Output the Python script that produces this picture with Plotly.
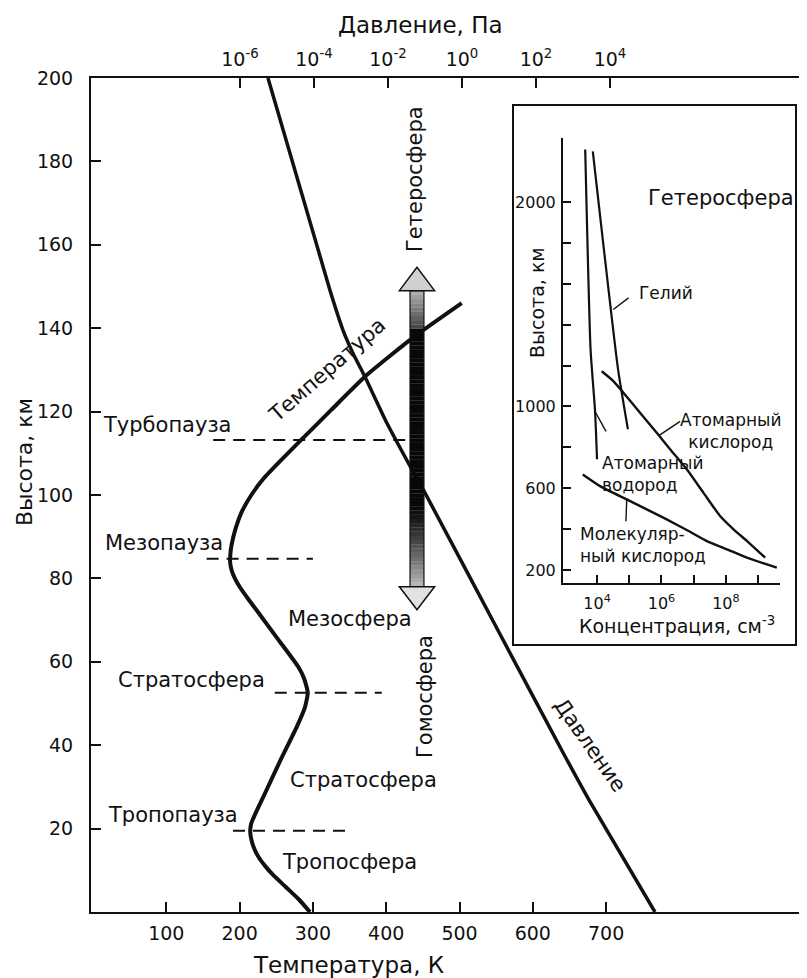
import plotly.graph_objects as go

# ---------------- data ----------------
# Temperature profile (altitude km, temperature K)
temp_alt = [0, 3, 6, 9, 11, 13, 15, 17, 19.2, 21, 23, 28.6, 36.5, 44.4, 49, 52.6, 56, 58.8, 65.5,
            71.7, 75, 78, 80, 82, 84, 86, 88, 92, 96, 100, 104, 108, 113.2, 120.4, 128.7, 137.8, 146]
temp_K = [296, 281, 263, 245, 235, 226.5, 220.5, 216.5, 214.5, 215.5, 220, 235, 256, 278, 289, 293, 288,
          280, 252, 226, 212, 200, 193.5, 189, 187, 187.5, 189, 194.6, 203, 216, 233, 254.6, 284, 325,
          373, 437, 503]

# Pressure profile (altitude km, pressure Pa)
pres_alt = [200, 149.1, 139.5, 134.0, 128.3, 117.2, 106.0, 100.5, 65.3, 38.2, 26.9, 0]
pres_Pa = [5.7e-6, 2.7e-4, 6.1e-4, 1.13e-3, 2.4e-3, 9.4e-3, 4.5e-2, 1.0e-1, 1.28e1, 5.4e2, 2.7e3, 1.64e5]

# Boundary (dashed) lines: altitude, temperature start, temperature end
bound_names = ["Турбопауза", "Мезопауза", "Стратосфера", "Тропопауза"]
bound_alt = [113.2, 84.7, 52.6, 19.5]
bound_T0 = [164, 155, 248, 191]
bound_T1 = [435, 300, 394, 351]

# Homosphere / heterosphere arrow (temperature position, altitudes)
arrow_T = 442
arrow_top_tip, arrow_top_base = 154.6, 149.0
arrow_bot_base, arrow_bot_tip = 78.0, 72.5
arrow_black_top, arrow_black_bot = 139.5, 97.0

# Inset: concentration (cm^-3) vs altitude (km)
h_alt = [2257, 1280, 975, 741]
h_n = [4.3e3, 6.3e3, 8.7e3, 1.0e4]
he_alt = [2248, 1181, 888]
he_n = [7.4e3, 4.5e4, 9.1e4]
o_alt = [1172, 1124, 1067, 969, 871, 781, 692, 578, 464, 400, 342, 260]
o_n = [1.40e4, 3.21e4, 6.58e4, 2.16e5, 7.13e5, 2.08e6, 6.10e6, 2.0e7, 6.6e7, 1.70e8, 4.47e8, 1.66e9]
o2_alt = [667, 610, 545, 496, 447, 395, 341, 301, 260, 211]
o2_n = [3.6e3, 1.24e4, 8.36e4, 3.49e5, 1.46e6, 6.1e6, 2.55e7, 1.07e8, 4.46e8, 3.81e9]
# label leader lines (n, alt)
lead_h = ([8.7e3, 1.9e4], [975, 878])
lead_he = ([3.2e4, 9.5e4], [1474, 1531])
lead_o = ([8.5e5, 3.8e6], [858, 927])
lead_o2 = ([8.36e4, 7.9e4], [545, 438])

T_ticks = [100, 200, 300, 400, 500, 600, 700]
alt_ticks = [20, 40, 60, 80, 100, 120, 140, 160, 180, 200]
P_ticks = [1e-6, 1e-4, 1e-2, 1e0, 1e2, 1e4]
P_tick_text = ["10<sup>-6</sup>", "10<sup>-4</sup>", "10<sup>-2</sup>", "10<sup>0</sup>",
               "10<sup>2</sup>", "10<sup>4</sup>"]
n_ticks = [1e4, 1e5, 1e6, 1e7, 1e8, 1e9]
n_tick_text = ["10<sup>4</sup>", "", "10<sup>6</sup>", "", "10<sup>8</sup>", ""]
ia_ticks = [200, 400, 600, 800, 1000, 1200, 1400, 1600, 1800, 2000]
ia_tick_text = ["200", "", "600", "", "1000", "", "", "", "", "2000"]

# ---------------- layout helpers ----------------
# The page body has an 8px margin: the figure starts at page (8, 8).
OFF = 8
W, H = 807 - OFF, 978 - OFF
PL, PR, PT, PB = 91, 807, 78, 912          # plot area in page pixels
ML, MR, MT, MB = PL - OFF, 0, PT - OFF, H + OFF - PB
PW, PH = PR - PL, PB - PT


def paper(xp, yp):
    return (xp - PL) / PW, (PB - yp) / PH


FONT = "DejaVu Sans, Verdana, sans-serif"
BLACK = "#111111"

fig = go.Figure()

# temperature
fig.add_trace(go.Scatter(x=temp_K, y=temp_alt, mode="lines",
                         line=dict(color=BLACK, width=4, shape="spline", smoothing=0.5),
                         xaxis="x", yaxis="y", hoverinfo="skip"))
# pressure
fig.add_trace(go.Scatter(x=pres_Pa, y=pres_alt, mode="lines",
                         line=dict(color=BLACK, width=3.5, shape="spline", smoothing=0.5),
                         xaxis="x2", yaxis="y", hoverinfo="skip"))
# dashed boundaries
for a, t0, t1 in zip(bound_alt, bound_T0, bound_T1):
    fig.add_trace(go.Scatter(x=[t0, t1], y=[a, a], mode="lines",
                             line=dict(color=BLACK, width=2, dash="12px,8px"),
                             xaxis="x", yaxis="y", hoverinfo="skip"))

# inset curves
for xs, ys, w in [(h_n, h_alt, 2.2), (he_n, he_alt, 2.2), (o_n, o_alt, 2.4), (o2_n, o2_alt, 2.4)]:
    fig.add_trace(go.Scatter(x=xs, y=ys, mode="lines",
                             line=dict(color=BLACK, width=w, shape="spline", smoothing=0.5),
                             xaxis="x3", yaxis="y3", hoverinfo="skip"))
for xs, ys in [lead_h, lead_he, lead_o, lead_o2]:
    fig.add_trace(go.Scatter(x=xs, y=ys, mode="lines", line=dict(color=BLACK, width=1.4),
                             xaxis="x3", yaxis="y3", hoverinfo="skip"))

shapes = []
# inset frame
x0p, y0p = paper(513, 645)
x1p, y1p = paper(796, 105)
shapes.append(dict(type="rect", xref="paper", yref="paper", x0=x0p, x1=x1p, y0=y0p, y1=y1p,
                   line=dict(color=BLACK, width=2), fillcolor="white", layer="below"))

# arrow shaft with grey gradient
half_shaft = 9.5
half_head = 24


def shade(a):
    if a >= arrow_black_top:
        f = (a - arrow_black_top) / (arrow_top_base - arrow_black_top)
        g = int(60 + 120 * f)
    elif a <= arrow_black_bot:
        f = (arrow_black_bot - a) / (arrow_black_bot - arrow_bot_base)
        g = int(10 + 180 * f ** 1.3)
    else:
        g = 8
    return f"rgb({g},{g},{g})"


steps = 70
span = arrow_top_base - arrow_bot_base
for i in range(steps):
    a0 = arrow_bot_base + span * i / steps
    a1 = arrow_bot_base + span * (i + 1) / steps
    shapes.append(dict(type="rect", xref="x", yref="y", x0=arrow_T - half_shaft, x1=arrow_T + half_shaft,
                       y0=a0, y1=a1 + 0.05, line=dict(width=0), fillcolor=shade((a0 + a1) / 2), layer="above"))
shapes.append(dict(type="rect", xref="x", yref="y", x0=arrow_T - half_shaft, x1=arrow_T + half_shaft,
                   y0=arrow_bot_base, y1=arrow_top_base, line=dict(color=BLACK, width=1.2), layer="above"))
shapes.append(dict(type="path", xref="x", yref="y", layer="above",
                   path=f"M {arrow_T - half_head},{arrow_top_base} L {arrow_T},{arrow_top_tip} "
                        f"L {arrow_T + half_head},{arrow_top_base} Z",
                   fillcolor="#d0d0d0", line=dict(color=BLACK, width=1.5)))
shapes.append(dict(type="path", xref="x", yref="y", layer="above",
                   path=f"M {arrow_T - half_head},{arrow_bot_base} L {arrow_T},{arrow_bot_tip} "
                        f"L {arrow_T + half_head},{arrow_bot_base} Z",
                   fillcolor="#e2e2e2", line=dict(color=BLACK, width=1.5)))

annotations = []


def label(text, xp, yp, size=21, xanchor="center", angle=0, align="center"):
    xx, yy = paper(xp, yp)
    annotations.append(dict(text=text, x=xx, y=yy, xref="paper", yref="paper", showarrow=False,
                            xanchor=xanchor, yanchor="middle", textangle=angle, align=align,
                            font=dict(family=FONT, size=size, color=BLACK)))


# axis titles
label("Давление, Па", 420, 25, size=23)
label("Температура, К", 348, 965, size=23)
label("Высота, км", 24, 462, size=22, angle=-90)
# layer labels
label("Турбопауза", 101, 425, xanchor="left")
label("Мезопауза", 103, 543, xanchor="left")
label("Стратосфера", 116, 680, xanchor="left")
label("Тропопауза", 106, 815, xanchor="left")
label("Мезосфера", 286, 619, xanchor="left")
label("Стратосфера", 288, 780, xanchor="left")
label("Тропосфера", 280, 862, xanchor="left")
label("Гомосфера", 425, 697, angle=-90)
label("Гетеросфера", 415, 179, angle=-90)
label("Температура", 327, 370, angle=-41)
label("Давление", 590, 745, angle=55)
# inset labels
label("Гетеросфера", 721, 198)
label("Высота, км", 537, 303, size=19, angle=-90)
label("Гелий", 637, 293, size=17, xanchor="left")
label("Атомарный<br>кислород", 731, 431, size=17)
label("Атомарный<br>водород", 600, 474, size=17, xanchor="left", align="left")
label("Молекуляр-<br>ный кислород", 578, 545, size=17, xanchor="left", align="left")
label("Концентрация, см<sup>-3</sup>", 677, 625, size=19)

ix0, iy0 = paper(563, 583)
ix1, iy1 = paper(780, 138)

axis_common = dict(showgrid=False, zeroline=False, showline=True, linecolor=BLACK, linewidth=2,
                   ticks="inside", tickcolor=BLACK, tickwidth=1.6,
                   tickfont=dict(family=FONT, size=19, color=BLACK))
inset_font = dict(family=FONT, size=16, color=BLACK)

fig.update_layout(
    width=W, height=H,
    margin=dict(l=ML, r=MR, t=MT, b=MB, pad=0),
    paper_bgcolor="white", plot_bgcolor="white",
    showlegend=False,
    xaxis=dict(range=[(PL - 93) / 0.733, (PR - 93) / 0.733], tickvals=T_ticks, ticklen=10,
               ticklabelstandoff=3, **axis_common),
    yaxis=dict(range=[0, 200], tickvals=alt_ticks, ticklen=10, ticklabelstandoff=12, **axis_common),
    xaxis2=dict(type="log", overlaying="x", side="top", anchor="y",
                range=[-6 + (PL - 240) / 37, -6 + (PR - 240) / 37],
                tickvals=P_ticks, ticktext=P_tick_text, ticklen=10, ticklabelstandoff=2, **axis_common),
    xaxis3=dict(type="log", domain=[ix0, ix1], anchor="y3", range=[2.944, 9.68],
                tickvals=n_ticks, ticktext=n_tick_text, ticklen=8, ticklabelstandoff=5,
                **{**axis_common, "tickfont": inset_font}),
    yaxis3=dict(domain=[iy0, iy1], anchor="x3", range=[136, 2313], tickvals=ia_ticks,
                ticktext=ia_tick_text, ticklen=8, ticklabelstandoff=2,
                **{**axis_common, "tickfont": inset_font}),
    shapes=shapes,
    annotations=annotations,
)

fig.write_html("out.html")
